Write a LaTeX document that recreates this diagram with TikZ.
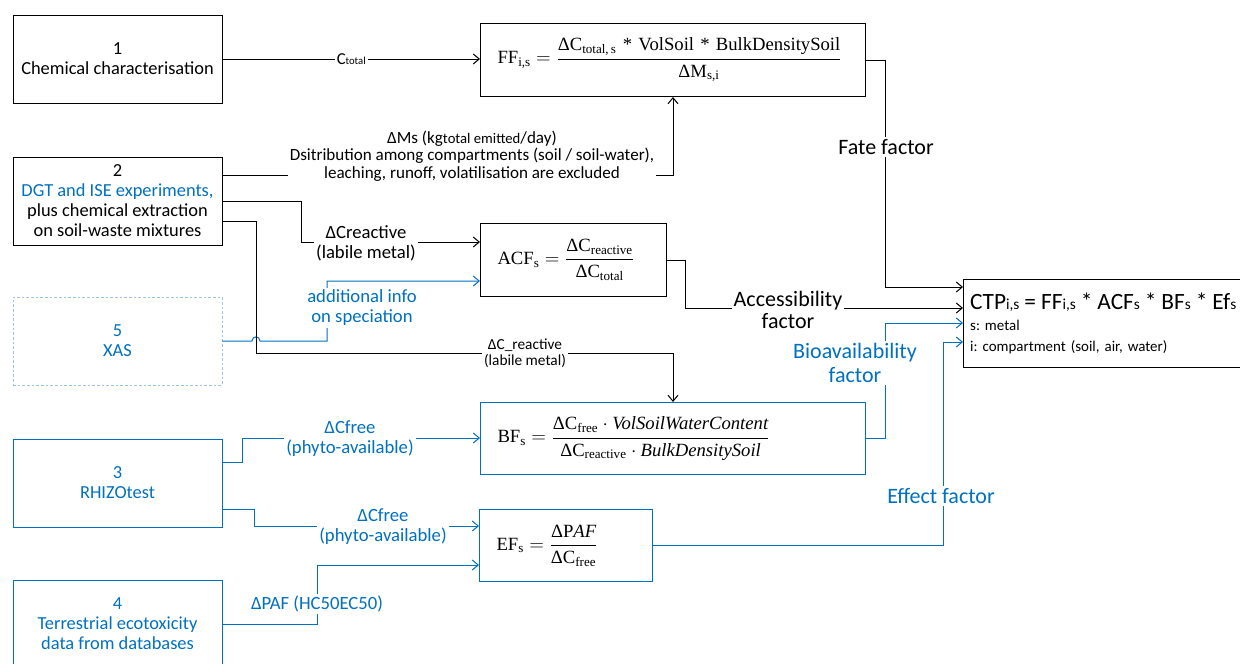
\documentclass[tikz,border=0pt]{standalone}
\usepackage{amsmath}
\usepackage{fontspec}
\setmainfont{Carlito}
\newfontfamily\tnr{Liberation Serif}
\usetikzlibrary{arrows.meta}
\definecolor{cblue}{RGB}{0,112,192}
\definecolor{lblue}{RGB}{157,195,230}
\frenchspacing
% small letters sitting on the line, as in CTP_{i,s}
\newcommand*\lowidx[1]{{\fontsize{11.5}{12}\selectfont #1}}

\begin{document}
\begin{tikzpicture}[x=0.75pt,y=-0.75pt,
  srcbox/.style={draw,line width=0.75pt,minimum width=156.75pt,minimum height=66pt,align=center,font=\fontsize{13.8}{15}\selectfont},
  bluebox/.style={srcbox,draw=cblue,text=cblue},
  formbox/.style={draw,line width=0.75pt,anchor=north west,align=left,inner xsep=12.75pt,font=\tnr\fontsize{14}{16}\selectfont},
  lbl/.style={fill=white,align=center,inner sep=1.5pt,font=\fontsize{14}{15}\selectfont},
  conn/.style={line width=0.75pt,-{Straight Barb[length=4.5pt,width=7.5pt]}},
  bconn/.style={conn,draw=cblue}]
\useasboundingbox (0,0) rectangle (1240,664);

% measurements
\node[srcbox] (b1) at (117.5,59) {1\\Chemical characterisation};
\node[srcbox] (b2) at (117.5,201) {2\\\textcolor{cblue}{DGT and ISE experiments,}\\plus chemical extraction\\on soil-waste mixtures};
\node[srcbox,draw=lblue,text=cblue,line width=0.6pt,dash pattern=on 2pt off 1.5pt] (b5) at (117.5,341) {5\\XAS};
\node[bluebox] (b3) at (117.5,483) {3\\RHIZOtest};
\node[bluebox] (b4) at (117.5,624) {4\\Terrestrial ecotoxicity\\data from databases};

% factors
\node[formbox,minimum width=288.75pt,minimum height=54.75pt,text width=263.25pt] (ff) at (480,23)
  {$\text{FF}_{\text{i,s}} = \dfrac{\text{ΔC}_{\text{total,\,s}}\text{ * VolSoil * BulkDensitySoil}}{\text{ΔM}_{\text{s,i}}}$};
\node[formbox,minimum width=139.5pt,minimum height=54.75pt,text width=114pt] (acf) at (480,223)
  {$\text{ACF}_{\text{s}} = \dfrac{\text{ΔC}_{\text{reactive}}}{\text{ΔC}_{\text{total}}}$};
\node[formbox,draw=cblue,minimum width=288.75pt,minimum height=54pt,text width=263.25pt] (bf) at (480,402)
  {$\text{BF}_{\text{s}} = \dfrac{\text{ΔC}_{\text{free}}\cdot\textit{VolSoilWaterContent}}{\text{ΔC}_{\text{reactive}}\cdot\textit{BulkDensitySoil}}$};
\node[formbox,draw=cblue,minimum width=129.75pt,minimum height=54pt,text width=104.25pt] (ef) at (479,509)
  {$\text{EF}_{\text{s}} = \dfrac{\text{ΔP}\textit{AF}}{\text{ΔC}_{\text{free}}}$};

% result
\node[draw,line width=0.75pt,anchor=north west,minimum width=225pt,minimum height=66pt,text width=215pt,
  inner xsep=4pt,align=left,font=\fontsize{11.2}{15.5}\selectfont] (ctp) at (963,279)
  {{\fontsize{17.5}{18}\selectfont CTP\lowidx{i,s} = FF\lowidx{i,s} * ACF\lowidx{s} * BF\lowidx{s} * Ef\lowidx{s}}\\
   s: metal\\
   i: compartment (soil, air, water)};

% into FF
\draw[conn] (b1.east) -- node[lbl,font=\fontsize{12.5}{13}\selectfont] (ctot) {C{\fontsize{8}{9}\selectfont total}} (b1.east -| ff.west);
\coordinate (msup) at (673,175);
\draw[conn] (b2.east |- msup) -- (msup) -- (msup |- ff.south);
\node[lbl,font=\fontsize{12.8}{13}\selectfont] (mslbl) at (472,156)
  {ΔMs (kg{\fontsize{11}{12}\selectfont total emitted}/day)\\Dsitribution among compartments (soil / soil-water),\\leaching, runoff, volatilisation are excluded};

% into ACF
\coordinate (acfin) at (301,242);
\draw[conn] (b2.east) -| (acfin) -- (acfin -| acf.west);
\node[lbl] (crlbl) at (366,243) {ΔCreactive\\(labile metal)};
\coordinate (specin) at (327,281);
\draw[bconn] (b5.east) -- (252,341) .. controls (252,335.5) and (260,335.5) .. (260,341)
  -- (specin |- b5.east) -- (specin) -- (specin -| acf.west);
\node[lbl,text=cblue] (speclbl) at (362,308) {additional info\\on speciation};

% into BF
\coordinate (crbf) at (256,353);
\draw[conn] (b2.east |- 0,221) -| (crbf) -- (crbf -| msup) -- (msup |- bf.north);
\node[lbl,font=\fontsize{11.5}{12}\selectfont] (crlbl2) at (525,353) {ΔC\_reactive\\(labile metal)};
\coordinate (frin) at (242,438);
\draw[bconn] (b3.east |- 0,462) -| (frin) -- (frin -| bf.west);
\node[lbl,text=cblue] (frlbl) at (350,439) {ΔCfree\\(phyto-available)};

% into EF
\coordinate (frin2) at (254,526);
\draw[bconn] (b3.east |- 0,509) -| (frin2) -- (frin2 -| ef.west);
\node[lbl,text=cblue] (frlbl2) at (383,527) {ΔCfree\\(phyto-available)};
\coordinate (pafin) at (317,565);
\draw[bconn] (b4.east) -| (pafin) -- (pafin -| ef.west);
\node[lbl,text=cblue] (paflbl) at (317,604) {ΔPAF (HC50EC50)};

% factors into CTP
\coordinate (fate) at (885,287);
\draw[conn] (ff.east) -| (fate) -- (fate -| ctp.west);
\node[lbl,font=\fontsize{16.5}{17}\selectfont] (fatelbl) at (886,147) {Fate factor};
\coordinate (acc) at (685,308);
\draw[conn] (acf.east) -| (acc) -- (acc -| ctp.west);
\node[lbl,font=\fontsize{16.5}{17}\selectfont] (acclbl) at (788,310) {Accessibility\\factor};
\coordinate (bio) at (885,323);
\draw[bconn] (bf.east) -| (bio) -- (bio -| ctp.west);
\node[lbl,text=cblue,font=\fontsize{16.5}{18}\selectfont] (biolbl) at (855,363) {Bioavailability\\factor};
\coordinate (eff) at (943,342);
\draw[bconn] (ef.east) -| (eff) -- (eff -| ctp.west);
\node[lbl,text=cblue,font=\fontsize{16.5}{17}\selectfont] (efflbl) at (941,496) {Effect factor};
\end{tikzpicture}
\end{document}
